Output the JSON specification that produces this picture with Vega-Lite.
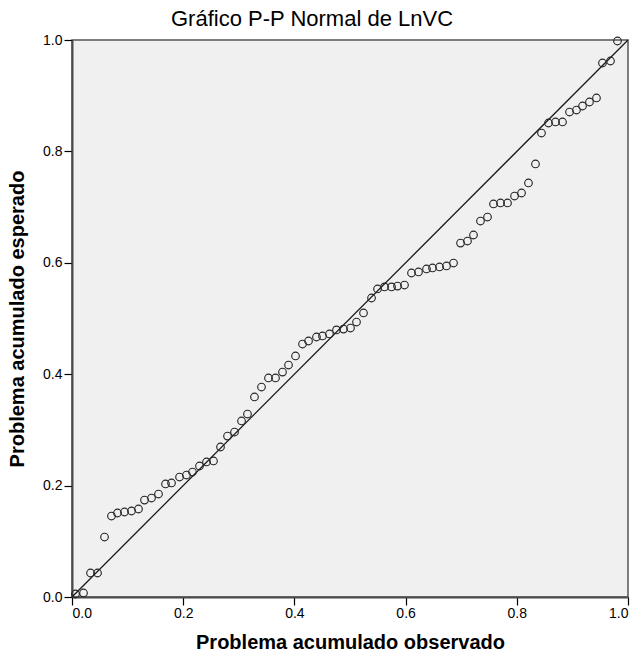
{
  "$schema": "https://vega.github.io/schema/vega-lite/v6.json",
  "width": 556,
  "height": 557,
  "autosize": "none",
  "padding": {"left": 72, "top": 40, "right": 12, "bottom": 61},
  "background": "white",
  "title": {"text": "Gráfico P-P Normal de LnVC", "font": "Liberation Sans", "fontSize": 22, "fontWeight": "normal", "color": "#000000", "anchor": "middle", "frame": "group", "dx": -38, "offset": 2},
  "config": {
    "view": {"fill": "#F0F0F0", "stroke": "#555555", "strokeWidth": 1.5},
    "axis": {"grid": false, "domainColor": "#4a4a4a", "domainWidth": 2, "tickColor": "#000000", "tickSize": 8, "tickWidth": 1.2, "labelFont": "Liberation Sans", "labelFontSize": 14, "labelColor": "#000000", "titleFont": "Liberation Sans", "titleFontSize": 20, "titleFontWeight": "bold", "titleColor": "#000000"}
  },
  "datasets": {
    "diag": [{"x": 0, "y": 0}, {"x": 1, "y": 1}],
    "pp": [
      {"obs": 0.0063, "exp": 0.0054}, {"obs": 0.0207, "exp": 0.0072}, {"obs": 0.0333, "exp": 0.0431}, {"obs": 0.0459, "exp": 0.0431},
      {"obs": 0.0585, "exp": 0.1077}, {"obs": 0.0710, "exp": 0.1454}, {"obs": 0.0818, "exp": 0.1508}, {"obs": 0.0944, "exp": 0.1526},
      {"obs": 0.1070, "exp": 0.1544}, {"obs": 0.1196, "exp": 0.1580}, {"obs": 0.1304, "exp": 0.1741}, {"obs": 0.1430, "exp": 0.1777},
      {"obs": 0.1556, "exp": 0.1849}, {"obs": 0.1682, "exp": 0.2029}, {"obs": 0.1790, "exp": 0.2047}, {"obs": 0.1934, "exp": 0.2154},
      {"obs": 0.2059, "exp": 0.2190}, {"obs": 0.2167, "exp": 0.2244}, {"obs": 0.2293, "exp": 0.2352}, {"obs": 0.2419, "exp": 0.2424},
      {"obs": 0.2545, "exp": 0.2442}, {"obs": 0.2671, "exp": 0.2693}, {"obs": 0.2797, "exp": 0.2890}, {"obs": 0.2923, "exp": 0.2962},
      {"obs": 0.3049, "exp": 0.3160}, {"obs": 0.3156, "exp": 0.3285}, {"obs": 0.3282, "exp": 0.3591}, {"obs": 0.3408, "exp": 0.3770},
      {"obs": 0.3534, "exp": 0.3932}, {"obs": 0.3660, "exp": 0.3932}, {"obs": 0.3786, "exp": 0.4039}, {"obs": 0.3894, "exp": 0.4165},
      {"obs": 0.4020, "exp": 0.4327}, {"obs": 0.4146, "exp": 0.4542}, {"obs": 0.4254, "exp": 0.4596}, {"obs": 0.4397, "exp": 0.4668},
      {"obs": 0.4505, "exp": 0.4686}, {"obs": 0.4631, "exp": 0.4722}, {"obs": 0.4757, "exp": 0.4794}, {"obs": 0.4883, "exp": 0.4811},
      {"obs": 0.5009, "exp": 0.4829}, {"obs": 0.5117, "exp": 0.4937}, {"obs": 0.5243, "exp": 0.5099}, {"obs": 0.5387, "exp": 0.5368},
      {"obs": 0.5495, "exp": 0.5530}, {"obs": 0.5621, "exp": 0.5566}, {"obs": 0.5747, "exp": 0.5566}, {"obs": 0.5855, "exp": 0.5583},
      {"obs": 0.5980, "exp": 0.5601}, {"obs": 0.6106, "exp": 0.5817}, {"obs": 0.6232, "exp": 0.5835}, {"obs": 0.6376, "exp": 0.5889},
      {"obs": 0.6484, "exp": 0.5907}, {"obs": 0.6610, "exp": 0.5925}, {"obs": 0.6736, "exp": 0.5943}, {"obs": 0.6862, "exp": 0.5996},
      {"obs": 0.6988, "exp": 0.6355}, {"obs": 0.7113, "exp": 0.6391}, {"obs": 0.7221, "exp": 0.6499}, {"obs": 0.7347, "exp": 0.6750},
      {"obs": 0.7473, "exp": 0.6822}, {"obs": 0.7581, "exp": 0.7056}, {"obs": 0.7707, "exp": 0.7074}, {"obs": 0.7833, "exp": 0.7074},
      {"obs": 0.7959, "exp": 0.7199}, {"obs": 0.8085, "exp": 0.7253}, {"obs": 0.8210, "exp": 0.7433}, {"obs": 0.8336, "exp": 0.7774},
      {"obs": 0.8444, "exp": 0.8330}, {"obs": 0.8570, "exp": 0.8510}, {"obs": 0.8696, "exp": 0.8528}, {"obs": 0.8822, "exp": 0.8528},
      {"obs": 0.8948, "exp": 0.8707}, {"obs": 0.9074, "exp": 0.8743}, {"obs": 0.9182, "exp": 0.8815}, {"obs": 0.9307, "exp": 0.8887},
      {"obs": 0.9433, "exp": 0.8959}, {"obs": 0.9541, "exp": 0.9587}, {"obs": 0.9685, "exp": 0.9623}, {"obs": 0.9811, "exp": 0.9982}
    ]
  },
  "layer": [
    {
      "data": {"name": "diag"},
      "mark": {"type": "line", "color": "#1a1a1a", "strokeWidth": 1.3},
      "encoding": {
        "x": {"field": "x", "type": "quantitative", "scale": {"domain": [0, 1], "nice": false}, "axis": {"values": [0, 0.2, 0.4, 0.6, 0.8, 1], "format": ".1f", "title": "Problema acumulado observado", "titlePadding": 12, "labelPadding": 1}},
        "y": {"field": "y", "type": "quantitative", "scale": {"domain": [0, 1], "nice": false}, "axis": {"values": [0, 0.2, 0.4, 0.6, 0.8, 1], "format": ".1f", "title": "Problema acumulado esperado", "titlePadding": 15, "labelPadding": 2}}
      }
    },
    {
      "data": {"name": "pp"},
      "mark": {"type": "point", "shape": "circle", "filled": false, "size": 58, "stroke": "#262626", "strokeWidth": 1.15, "opacity": 1},
      "encoding": {
        "x": {"field": "obs", "type": "quantitative"},
        "y": {"field": "exp", "type": "quantitative"}
      }
    }
  ]
}
